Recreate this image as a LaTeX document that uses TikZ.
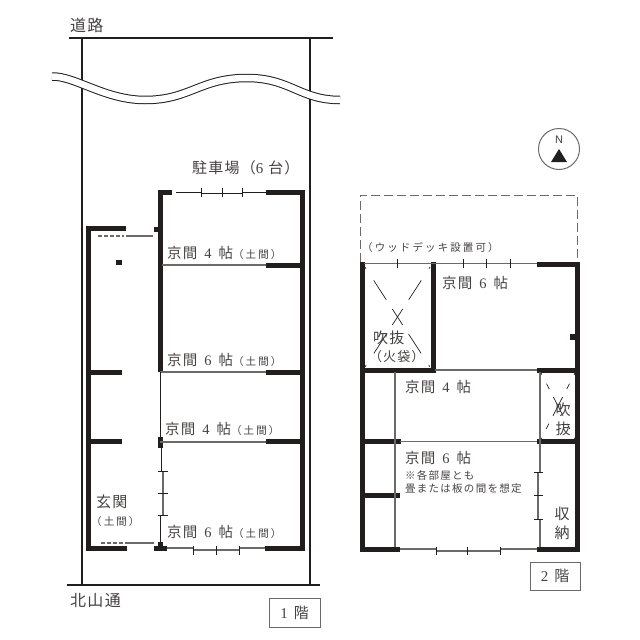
\documentclass[tikz,border=0pt]{standalone}
\usepackage{fontspec}
\setmainfont{Liberation Serif}
\newfontfamily\jpfont[LetterSpace=8]{Noto Sans CJK JP}
\newfontfamily\jpnote[LetterSpace=12]{Noto Sans CJK JP}
\newfontfamily\jpwide[LetterSpace=20]{Noto Sans CJK JP}
\definecolor{inkColor}{RGB}{35,30,30}
\definecolor{textColor}{RGB}{70,65,65}
\definecolor{thinColor}{RGB}{110,105,105}
\tikzset{
  wall/.style={line width=5pt,color=inkColor},
  partition/.style={line width=1.1pt,color=thinColor},
  boundary/.style={line width=1.6pt,color=inkColor},
  slider/.style={line width=.9pt,color=inkColor},
  voidcross/.style={line width=.7pt,color=inkColor,dash pattern=on 2pt off 14pt on 23pt off 11pt on 19pt off 11pt on 23pt off 14pt on 2pt},
  voidcrossb/.style={line width=.7pt,color=inkColor,dash pattern=on 2pt off 10pt on 6pt off 9pt on 21pt off 9pt on 6pt off 10pt on 2pt},
  bigtext/.style={anchor=west,inner sep=0pt,text=textColor,font=\fontsize{15}{15}\selectfont},
  roadtext/.style={anchor=west,inner sep=0pt,text=textColor,font=\fontsize{16}{16}\selectfont},
  roomtext/.style={anchor=west,inner sep=0pt,text=textColor,font=\fontsize{14.5}{14.5}\selectfont},
  smalltext/.style={anchor=west,inner sep=0pt,text=textColor,font=\fontsize{10.5}{10.5}\selectfont},
  floorbox/.style={draw=thinColor,line width=.9pt,inner sep=0pt,text=textColor,font=\fontsize{15}{15}\selectfont},
}
\newcommand{\roomname}[1]{{\jpfont 京間}\hspace{7pt}#1\hspace{7pt}{\jpfont 帖}}
\newcommand{\earthfloor}{{\fontsize{10.5}{10.5}\selectfont\jpwide （土間）}}
\begin{document}
\begin{tikzpicture}[x=1pt,y=-1pt]
  \useasboundingbox (0,0) rectangle (640,640);
  % Road and site
  \draw[boundary] (69,38) -- (333,38);
  \draw[boundary] (67,585) -- (320,585);
  \draw[boundary] (82,38) -- (82,585);
  \draw[boundary] (310,38) -- (310,585);
  \draw[line width=1pt,color=inkColor,double=white,double distance=6.5pt] (52,76.5) .. controls (75,76) and (105,100) .. (145,100) .. controls (190,100) and (200,78) .. (247,78) .. controls (290,78) and (300,100) .. (340,100);
  \node[roadtext] (roadNorth) at (70,25) {\jpfont 道路};
  \node[roadtext] (roadSouth) at (70,600) {\jpfont 北山通};
  \node[bigtext] (parking) at (192,168) {\jpfont 駐車場（\fontspec{Liberation Serif}6\,\,\jpfont 台）};
  % First floor, walls
  \draw[wall,line join=miter] (126,228) -- (88,228) -- (88,548) -- (127,548);
  \draw[wall] (88,372) -- (122,372);
  \draw[wall] (88,441.5) -- (122,441.5);
  \draw[wall,line join=miter] (172,192) -- (160,192) -- (160,372);
  \draw[wall,line join=miter] (266,192) -- (302,192) -- (302,548) -- (265,548);
  \draw[wall] (266,265) -- (302,265);
  \draw[wall] (266,372) -- (302,372);
  \draw[wall] (266,441.5) -- (302,441.5);
  \fill[inkColor] (153.5,227) rectangle (158,232);
  \fill[inkColor] (116,260) rectangle (122,265);
  \fill[inkColor] (157.5,437) rectangle (162.5,448);
  \fill[inkColor] (154,545.5) rectangle (167,551);
  \fill[inkColor] (158,542) rectangle (163,546);
  % First floor, thin lines
  \draw[partition] (162,265) -- (266,265);
  \draw[partition] (160,372) -- (266,372);
  \draw[partition] (160,442) -- (266,442);
  \draw[slider] (160,372) -- (160,437);
  \draw[slider] (161,448) -- (161,471);
  \draw[partition] (163,471) -- (163,515);
  \draw[slider] (160.5,515) -- (160.5,545);
  \draw[slider] (176,192) -- (201,192);
  \draw[slider] (201,193) -- (242,193);
  \draw[slider] (242,192) -- (266,192);
  \draw[slider] (201,188) -- (201,197);
  \draw[slider] (222,188) -- (222,197);
  \draw[slider] (242,188) -- (242,197);
  \draw[slider] (158,471) -- (168,471);
  \draw[slider] (158,493) -- (168,493);
  \draw[slider] (158,515) -- (168,515);
  \draw[partition] (167,548) -- (193,548);
  \draw[partition] (193,550) -- (239,550);
  \draw[partition] (239,548) -- (265,548);
  \draw[slider] (193,546) -- (193,555);
  \draw[slider] (216,546) -- (216,555);
  \draw[slider] (239,546) -- (239,555);
  % First floor, entrance lines
  \draw[partition,dashed,dash pattern=on 4pt off 2pt] (98,236) -- (124,236);
  \draw[partition] (126,236) -- (153,236);
  \draw[partition,dashed,dash pattern=on 4pt off 2pt] (101,543) -- (126,543);
  \draw[partition] (126,543) -- (154,543);
  % First floor, texts
  \node[roomtext] (room1a) at (167,253) {\roomname{4}\earthfloor};
  \node[roomtext] (room1b) at (167,360) {\roomname{6}\earthfloor};
  \node[roomtext] (room1c) at (165,429) {\roomname{4}\earthfloor};
  \node[roomtext] (room1d) at (167,532) {\roomname{6}\earthfloor};
  \node[bigtext] (entrance) at (96,502) {\jpfont 玄関};
  \node[smalltext] (entranceSub) at (91,522) {\jpwide （土間）};
  \node[floorbox,minimum width=51pt,minimum height=29pt] (floor1) at (294.5,612.5) {1\hspace{6pt}{\jpfont 階}};
  % North mark
  \node[circle,draw=thinColor,line width=1pt,minimum size=41pt,inner sep=0pt] (north) at (559,149) {};
  \node[inner sep=0pt,text=textColor,font=\fontsize{11}{11}\selectfont\fontspec{Liberation Sans}] (northN) at (559,140) {N};
  \fill[inkColor] (559,149) -- (567,162) -- (551,162) -- cycle;
  % Deck
  \draw[partition,line width=.8pt,dash pattern=on 9pt off 4pt] (360,262) -- (360,195) -- (577,195) -- (577,262);
  \node[smalltext] (deck) at (362,248) {\jpwide （ウッドデッキ設置可）};
  % Second floor, walls
  \draw[wall,line join=miter] (362,262) -- (362,549) -- (400,549);
  \draw[wall,line join=miter] (537,264.5) -- (577,264.5) -- (577,549) -- (537,549);
  \draw[wall,line join=miter] (433,262) -- (433,370) -- (362,370);
  \draw[wall] (537,370) -- (577,370);
  \draw[wall] (537,441.5) -- (577,441.5);
  \draw[wall] (362,441.5) -- (401,441.5);
  \draw[wall] (362,495) -- (400,495);
  \fill[inkColor] (570,334) rectangle (575,340);
  % Second floor, thin lines
  \draw[partition] (364,263.5) -- (537,263.5);
  \draw[partition] (435,370) -- (537,370);
  \draw[partition] (400,441.5) -- (537,441.5);
  \draw[partition] (395,372) -- (395,547);
  \draw[partition] (540,372) -- (540,472);
  \draw[partition] (538,472) -- (538,519);
  \draw[partition] (540,519) -- (540,547);
  \draw[partition] (400,549) -- (436,549);
  \draw[partition] (436,551) -- (500,551);
  \draw[partition] (500,549) -- (537,549);
  \draw[slider] (397,259) -- (397,268);
  \draw[slider] (463,259) -- (463,268);
  \draw[slider] (486,259) -- (486,268);
  \draw[slider] (510,259) -- (510,268);
  \draw[slider] (534,472) -- (543,472);
  \draw[slider] (534,495) -- (543,495);
  \draw[slider] (534,519) -- (543,519);
  \draw[slider] (436,547) -- (436,555);
  \draw[slider] (467,547) -- (467,555);
  \draw[slider] (500,547) -- (500,555);
  % Voids
  \draw[voidcross] (365,267) -- (430,367);
  \draw[voidcross] (430,267) -- (365,367);
  \draw[voidcrossb] (541,373) -- (575,439);
  \draw[voidcrossb] (575,373) -- (541,439);
  % Second floor, texts
  \node[roomtext] (room2a) at (442,283) {\roomname{6}};
  \node[roomtext] (room2b) at (405,387) {\roomname{4}};
  \node[roomtext] (room2c) at (405,458) {\roomname{6}};
  \node[bigtext] (void1) at (373,338) {\jpfont 吹抜};
  \node[bigtext,font=\fontsize{13}{13}\selectfont] (void1sub) at (369,357) {\jpfont （火袋）};
  \node[bigtext,anchor=center] (void2a) at (563,410) {\jpfont 吹};
  \node[bigtext,anchor=center] (void2b) at (563,429) {\jpfont 抜};
  \node[smalltext] (note1) at (405,475) {\jpnote ※各部屋とも};
  \node[smalltext] (note2) at (405,489) {\jpnote 畳または板の間を想定};
  \node[bigtext,anchor=center] (store1) at (562,514) {\jpfont 収};
  \node[bigtext,anchor=center] (store2) at (562,533) {\jpfont 納};
  \node[floorbox,minimum width=50pt,minimum height=28pt] (floor2) at (555,576) {2\hspace{6pt}{\jpfont 階}};
\end{tikzpicture}
\end{document}
